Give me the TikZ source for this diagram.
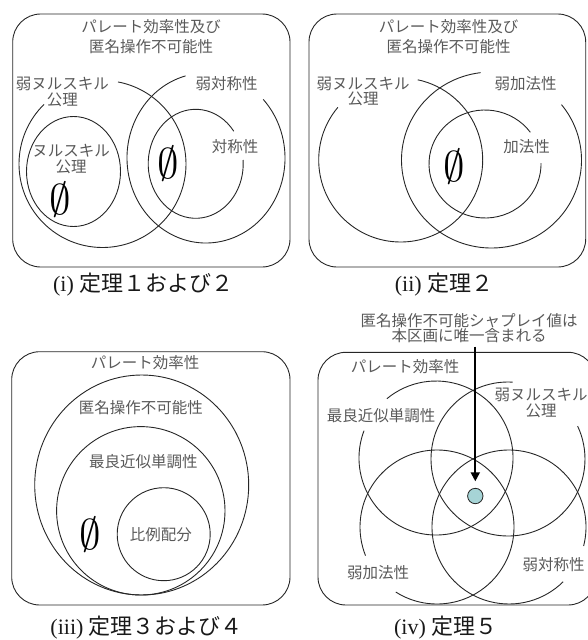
\documentclass[tikz,border=0pt]{standalone}
\usepackage{fontspec}
\setmainfont{Liberation Serif}
\newfontfamily\jp{Noto Sans CJK JP}
\usetikzlibrary{arrows.meta}
\definecolor{dotfill}{RGB}{166,212,214}
\begin{document}
\begin{tikzpicture}[x=1pt,y=-1pt,
  panel/.style={draw=black!85,line width=0.9pt,rounded corners=28pt},
  ring/.style={draw=black!85,line width=0.9pt},
  lab/.style={inner sep=0pt,align=center,text=black!65,font=\jp\fontsize{15.5}{15.5}\selectfont},
  ttl/.style={inner sep=0pt,align=center,text=black!65,font=\jp\fontsize{15.5}{20}\selectfont},
  captext/.style={inner sep=0pt,text=black!90,font=\fontsize{22}{22}\selectfont},
  nullset/.style={inner sep=0pt},
  pointer/.style={line width=2pt,-{Triangle[length=9pt,width=9pt]},shorten >=6.6pt},
]
\useasboundingbox (0,0) rectangle (588,640);

% ---------------- Panel (i) ----------------
\coordinate (c1L) at (102.5,164);
\coordinate (c1N) at (73.5,171.5);
\coordinate (c1R) at (206,158);
\coordinate (c1S) at (195.7,163.8);
\draw[panel] (12.7,14) rectangle (290,267);
\draw[ring] (c1L) ++(134.5:83.5pt) arc[start angle=134.5,end angle=439.3,radius=83.5pt];
\draw[ring] (c1N) circle[x radius=47pt,y radius=55pt];
\draw[ring] (c1R) ++(105:79pt and 85pt) arc[start angle=105,end angle=403.6,x radius=79pt,y radius=85pt];
\draw[ring] (c1S) ++(36.7:47.5pt and 54.5pt) arc[start angle=36.7,end angle=364,x radius=47.5pt,y radius=54.5pt];
\node[ttl] (t1) at (151,36.7) {パレート効率性及び\\匿名操作不可能性};
\node[lab] (w1) at (62.5,92) {弱ヌルスキル\\公理};
\node[lab] (n1) at (71,159) {ヌルスキル\\公理};
\node[lab] (ws1) at (226.7,83.3) {弱対称性};
\node[lab] (s1) at (235,146.7) {対称性};
\node[nullset] (e1) at (168,164) {\scalebox{4.3}{$\emptyset$}};
\node[nullset] (e2) at (60,200) {\scalebox{4.3}{$\emptyset$}};
\node[captext] (cap1) at (143.3,285) {(i) {\jp 定理１および２}};

% ---------------- Panel (ii) ----------------
\coordinate (c2L) at (400.7,160);
\coordinate (c2R) at (491.5,160);
\coordinate (c2A) at (485,164);
\draw[panel] (309,14) rectangle (585.7,267);
\draw[ring] (c2L) ++(140:82pt) arc[start angle=140,end angle=438,radius=82pt];
\draw[ring] (c2R) ++(97:90pt and 88pt) arc[start angle=97,end angle=399,x radius=90pt,y radius=88pt];
\draw[ring] (c2A) ++(36:56pt and 54pt) arc[start angle=36,end angle=361,x radius=56pt,y radius=54pt];
\node[ttl] (t2) at (448.5,36.7) {パレート効率性及び\\匿名操作不可能性};
\node[lab] (w2) at (363,91.2) {弱ヌルスキル\\公理};
\node[lab] (wa2) at (525.7,83.3) {弱加法性};
\node[lab] (a2) at (526.5,146.7) {加法性};
\node[nullset] (e3) at (454,166.7) {\scalebox{4.3}{$\emptyset$}};
\node[captext] (cap2) at (444,285) {(ii) {\jp 定理２}};

% ---------------- Panel (iii) ----------------
\draw[panel] (11.7,351.7) rectangle (290,605);
\draw[ring] (141.7,485) circle[x radius=107pt,y radius=110pt];
\draw[ring] (140.8,510.8) circle[radius=84.2pt];
\draw[ring] (163.7,534.2) circle[radius=46.5pt];
\node[lab] (p3) at (145,362.7) {パレート効率性};
\node[lab] (an3) at (140.8,407.3) {匿名操作不可能性};
\node[lab] (bm3) at (143.3,461.7) {最良近似単調性};
\node[lab] (pr3) at (160.8,535) {比例配分};
\node[nullset] (e4) at (90,535) {\scalebox{4.3}{$\emptyset$}};
\node[captext] (cap3) at (146.7,628) {(iii) {\jp 定理３および４}};

% ---------------- Panel (iv) ----------------
\coordinate (cTL) at (436,458);
\coordinate (cTR) at (508,459);
\coordinate (cBL) at (437,527);
\coordinate (cBR) at (509,527);
\draw[panel] (318,352.3) rectangle (596,605);
\draw[ring] (cTL) ++(159.2:77pt) arc[start angle=159.2,end angle=489.6,radius=77pt];
\draw[ring] (cTR) ++(86.5:77pt) arc[start angle=86.5,end angle=385.3,radius=77pt];
\draw[ring] (cBL) ++(237.6:77pt) arc[start angle=237.6,end angle=561.8,radius=77pt];
\draw[ring] (cBR) ++(-14.3:77pt) arc[start angle=-14.3,end angle=314.7,radius=77pt];
\node[lab] (p4) at (405,367) {パレート効率性};
\node[lab] (bm4) at (381,415.7) {最良近似単調性};
\node[lab] (wn4) at (541,403) {弱ヌルスキル\\公理};
\node[lab] (wa4) at (378,573) {弱加法性};
\node[lab] (ws4) at (553.7,565) {弱対称性};
\node[lab] (ann) at (469,328.3) {匿名操作不可能シャプレイ値は\\本区画に唯一含まれる};
\node[circle,draw=black!85,line width=0.8pt,fill=dotfill,minimum size=15.4pt,inner sep=0pt] (dot) at (475.3,496) {};
\coordinate (astart) at (475.3,346.5);
\draw[pointer] (astart) -- (dot.north);
\node[captext] (cap4) at (445.7,628) {(iv) {\jp 定理５}};
\end{tikzpicture}
\end{document}
